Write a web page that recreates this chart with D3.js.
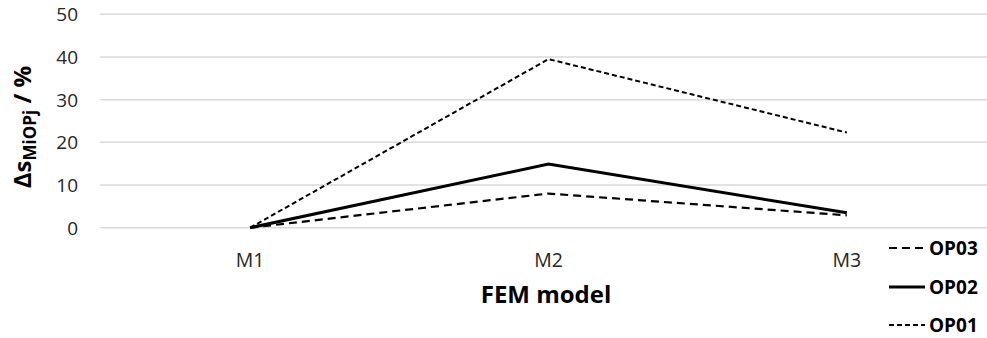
<!DOCTYPE html>
<html>
<head>
<meta charset="utf-8">
<script src="https://cdn.jsdelivr.net/npm/d3@7"></script>
<style>
  html, body { margin: 0; padding: 0; background: #fff; }
  svg { display: block; font-family: "Open Sans", "Liberation Sans", sans-serif; }
</style>
</head>
<body>
<svg id="chart" width="987" height="338"></svg>
<script>
// FEM models along the x axis
const models = ["M1", "M2", "M3"];
// Deviation per observation point, in percent
const op01 = [0, 39.5, 22.3];
const op02 = [0, 14.9, 3.5];
const op03 = [0, 8.0, 2.9];
const yTicks = [0, 10, 20, 30, 40, 50];

const series = [
  { name: "OP01", values: op01, width: 2, dash: "5,3" },
  { name: "OP02", values: op02, width: 3, dash: null },
  { name: "OP03", values: op03, width: 2.2, dash: "8,5" }
];
const legendOrder = ["OP03", "OP02", "OP01"];

const svg = d3.select("#chart");

const x = d3.scaleBand().domain(models).range([101, 996]);
const y = d3.scaleLinear().domain([0, 50]).range([227.7, 14.3]);
const cx = d => x(d) + x.bandwidth() / 2;

// Horizontal gridlines
svg.append("g")
  .selectAll("line")
  .data(yTicks)
  .join("line")
  .attr("x1", 100).attr("x2", 987)
  .attr("y1", d => y(d)).attr("y2", d => y(d))
  .attr("stroke", "#d9d9d9").attr("stroke-width", 1.5);

// Y axis tick labels
const yAxis = d3.axisLeft(y).tickValues(yTicks).tickSize(0).tickPadding(0);
const gy = svg.append("g").attr("transform", "translate(78,0)").call(yAxis);
gy.select(".domain").remove();
gy.selectAll("text")
  .attr("font-family", "Open Sans, sans-serif")
  .attr("font-size", 19)
  .attr("fill", "#262626")
  .attr("dy", "0.34em");

// X axis category labels
const xAxis = d3.axisBottom(x).tickSize(0).tickPadding(0);
const gx = svg.append("g").attr("transform", "translate(0,253)").call(xAxis);
gx.select(".domain").remove();
gx.selectAll("text")
  .attr("font-family", "Open Sans, sans-serif")
  .attr("font-size", 19.5)
  .attr("fill", "#262626")
  .attr("dy", "0.72em");

// Series lines
const line = d3.line()
  .x((d, i) => cx(models[i]))
  .y(d => y(d));

svg.append("g")
  .selectAll("path")
  .data(series)
  .join("path")
  .attr("d", s => line(s.values))
  .attr("fill", "none")
  .attr("stroke", "#000")
  .attr("stroke-width", s => s.width)
  .attr("stroke-dasharray", s => s.dash)
  .attr("stroke-linejoin", "miter");

// Axis titles
svg.append("text")
  .attr("x", 546).attr("y", 303)
  .attr("text-anchor", "middle")
  .attr("font-size", 24).attr("font-weight", "bold")
  .attr("fill", "#000")
  .text("FEM model");

const yt = svg.append("text")
  .attr("transform", "translate(31,127) rotate(-90)")
  .attr("text-anchor", "middle")
  .attr("font-size", 24).attr("font-weight", "bold")
  .attr("fill", "#000");
yt.append("tspan").text("Δs");
yt.append("tspan").attr("font-size", 17).attr("dy", 5).text("MiOPj");
yt.append("tspan").attr("dy", -5).text(" / %");

// Legend
const legendY = [248, 287, 325];
const lg = svg.append("g")
  .selectAll("g")
  .data(legendOrder.map(n => series.find(s => s.name === n)))
  .join("g")
  .attr("transform", (d, i) => `translate(0,${legendY[i]})`);
lg.append("line")
  .attr("x1", 889).attr("x2", 925)
  .attr("stroke", "#000")
  .attr("stroke-width", d => d.width)
  .attr("stroke-dasharray", d => d.dash);
lg.append("text")
  .attr("x", 929).attr("dy", "0.36em")
  .attr("font-size", 19).attr("font-weight", "bold")
  .attr("fill", "#000")
  .text(d => d.name);
</script>
</body>
</html>
